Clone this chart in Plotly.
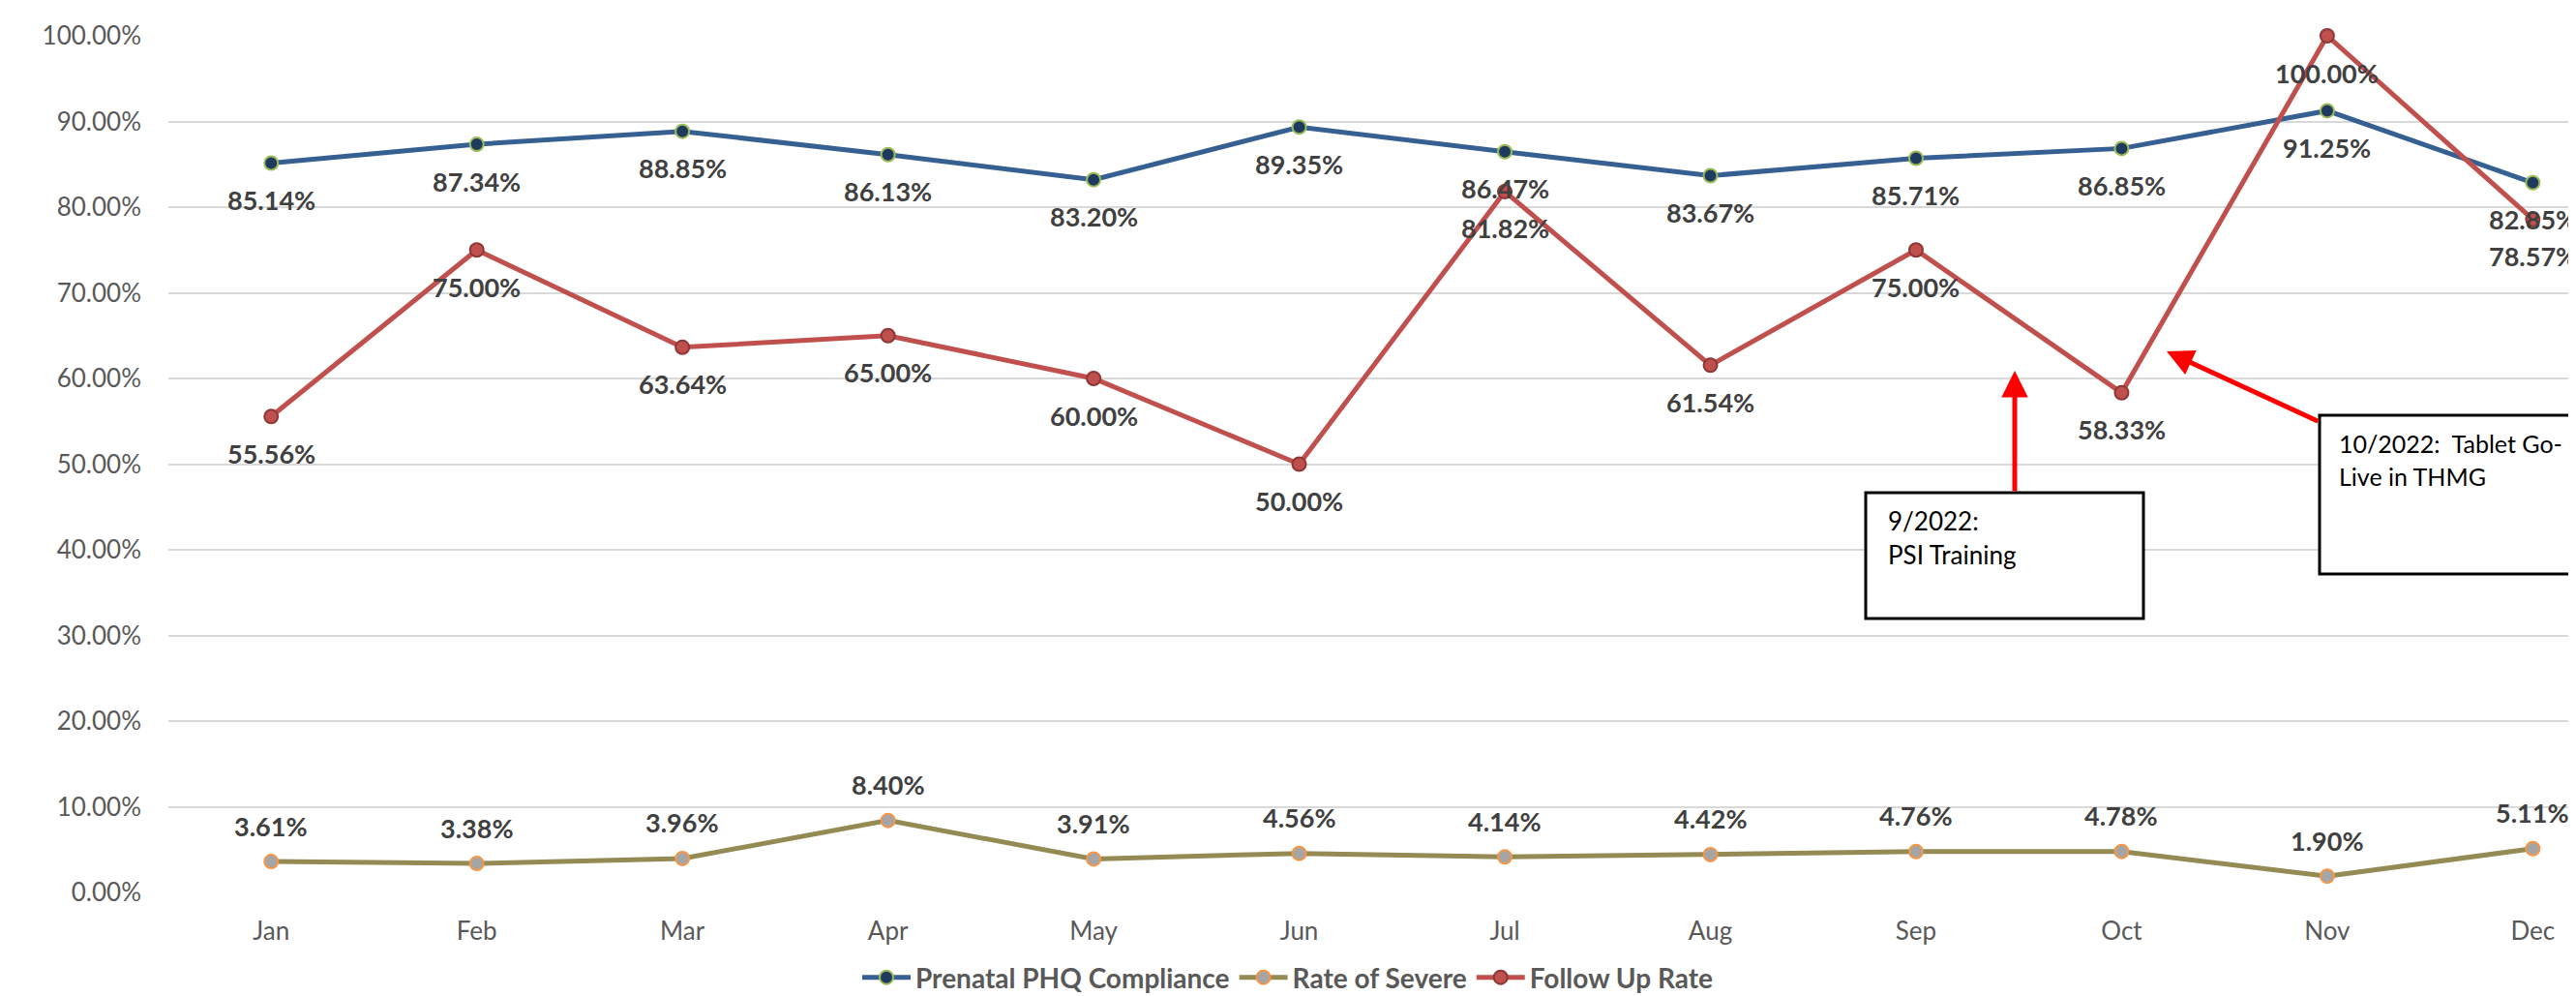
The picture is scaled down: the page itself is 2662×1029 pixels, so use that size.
import plotly.graph_objects as go

months = ["Jan", "Feb", "Mar", "Apr", "May", "Jun", "Jul", "Aug", "Sep", "Oct", "Nov", "Dec"]
compliance = [0.8514, 0.8734, 0.8885, 0.8613, 0.8320, 0.8935, 0.8647, 0.8367, 0.8571, 0.8685, 0.9125, 0.8285]
severe = [0.0361, 0.0338, 0.0396, 0.0840, 0.0391, 0.0456, 0.0414, 0.0442, 0.0476, 0.0478, 0.0190, 0.0511]
follow_up = [0.5556, 0.7500, 0.6364, 0.6500, 0.6000, 0.5000, 0.8182, 0.6154, 0.7500, 0.5833, 1.0000, 0.7857]
y_ticks = [0.0, 0.1, 0.2, 0.3, 0.4, 0.5, 0.6, 0.7, 0.8, 0.9, 1.0]

# page body has an 8px default margin; the figure is sized to fill the rest
OFF = 8
W, H = 2662 - OFF, 1029 - OFF
L, R, T, B = 174 - OFF, 0, 37 - OFF, 1029 - 922
FONT = "Lato"

def px_x(p):
    return (p - OFF - L) / (W - L - R)

def px_y(p):
    return (H - B - (p - OFF)) / (H - T - B)

fig = go.Figure()

series = [
    ("Prenatal PHQ Compliance", compliance, "#366092", "#1F3A5F", "#9BBB59", -38),
    ("Rate of Severe", severe, "#948A54", "#A5A5A5", "#F79646", 37),
    ("Follow Up Rate", follow_up, "#C0504D", "#C0504D", "#8C3836", -38),
]

for name, vals, lc, mf, me, shift in series:
    fig.add_trace(go.Scatter(
        x=months, y=vals, name=name, mode="lines+markers",
        line=dict(color=lc, width=5),
        marker=dict(size=14, color=mf, line=dict(color=me, width=2)),
        cliponaxis=False, hoverinfo="skip",
    ))

for name, vals, lc, mf, me, shift in series:
    for m, v in zip(months, vals):
        fig.add_annotation(
            x=m, y=v, xref="x", yref="y", text=f"{v*100:.2f}%",
            showarrow=False, yshift=shift,
            font=dict(family=FONT, size=27, color="#404040", weight="bold"),
        )

# annotation boxes
fig.add_shape(type="rect", xref="paper", yref="paper",
              x0=px_x(1928), x1=px_x(2215), y0=px_y(639), y1=px_y(509),
              line=dict(color="black", width=3), fillcolor="white", layer="above")
fig.add_shape(type="rect", xref="paper", yref="paper",
              x0=px_x(2397), x1=px_x(2720), y0=px_y(593), y1=px_y(429),
              line=dict(color="black", width=3), fillcolor="white", layer="above")

box_text = [
    ("9/2022:", 1949, 538, 26),
    ("PSI Training", 1949, 573, 26),
    ("10/2022:&nbsp; Tablet Go-", 2415, 458, 25),
    ("Live in THMG", 2415, 492, 25),
]
for txt, xp, yp, fs in box_text:
    fig.add_annotation(x=px_x(xp), y=px_y(yp), xref="paper", yref="paper",
                       text=txt, showarrow=False, xanchor="left", yanchor="middle",
                       font=dict(family=FONT, size=fs, color="black"))

# arrows
fig.add_annotation(x=px_x(2082), y=px_y(383), xref="paper", yref="paper",
                   text="", showarrow=True, ax=0, ay=126, axref="pixel", ayref="pixel",
                   arrowcolor="#FF0000", arrowwidth=5, arrowhead=2, arrowsize=1.1)
fig.add_annotation(x=px_x(2239), y=px_y(363), xref="paper", yref="paper",
                   text="", showarrow=True, ax=158, ay=73, axref="pixel", ayref="pixel",
                   arrowcolor="#FF0000", arrowwidth=5, arrowhead=2, arrowsize=1.1)

fig.update_layout(
    width=W, height=H,
    margin=dict(l=L, r=R, t=T, b=B, autoexpand=False),
    plot_bgcolor="white", paper_bgcolor="white",
    font=dict(family=FONT, size=26, color="#595959"),
    showlegend=True,
    legend=dict(orientation="h", xref="container", yref="container",
                x=(1331 - OFF) / W, xanchor="center", y=1 - (1010 - OFF) / H, yanchor="middle",
                font=dict(family=FONT, size=28, color="#595959", weight="bold"),
                itemwidth=50, traceorder="normal"),
    xaxis=dict(type="category", range=[-0.5, 11.21], showgrid=False, showline=False,
               zeroline=False, ticks="", ticklabelstandoff=22,
               tickfont=dict(family=FONT, size=26, color="#595959")),
    yaxis=dict(range=[0, 1.0], tickvals=y_ticks, tickformat=".2%",
               showgrid=True, gridcolor="#D9D9D9", gridwidth=2,
               zeroline=False, showline=False, ticks="", ticklabelstandoff=27,
               tickfont=dict(family=FONT, size=26, color="#595959")),
    hovermode=False,
)

fig.write_html("out.html")
